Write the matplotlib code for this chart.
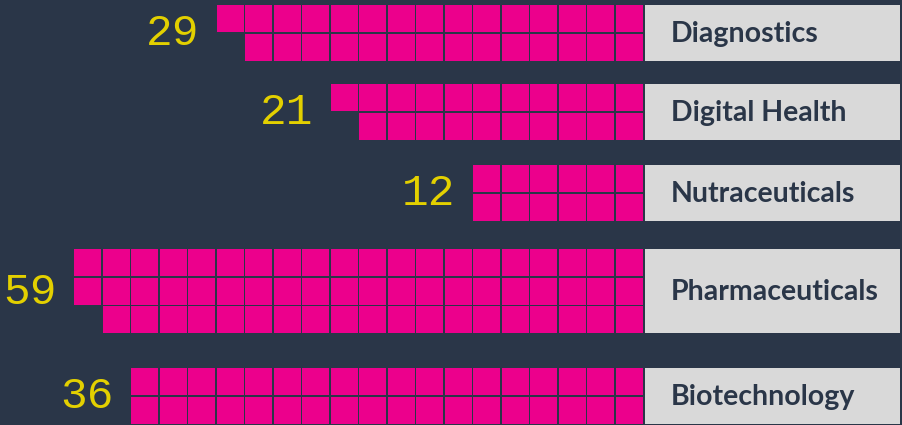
import math
import matplotlib
matplotlib.use("Agg")
import matplotlib.pyplot as plt
from matplotlib.patches import Rectangle

# data
categories = ["Diagnostics", "Digital Health", "Nutraceuticals", "Pharmaceuticals", "Biotechnology"]
counts = [29, 21, 12, 59, 36]
max_per_row = 20
min_rows = 2

# layout (pixel units)
W, H = 903, 425
group_tops = [5, 84, 165, 249, 368]
pitch = 28.5
size = 27
grid_right = 644.5
box_left, box_right = 645, 900

bg = "#2a3648"
pink = "#ec008c"
yellow = "#e3d000"
box_col = "#d9d9d9"

fig = plt.figure(figsize=(W / 100, H / 100), dpi=100)
fig.patch.set_facecolor(bg)
ax = fig.add_axes([0, 0, 1, 1])
ax.set_facecolor(bg)
ax.set_xlim(0, W)
ax.set_ylim(H, 0)
ax.axis("off")

for cat, n, top in zip(categories, counts, group_tops):
    rows = max(min_rows, math.ceil(n / max_per_row))
    cols = math.ceil(n / rows)
    # squares fill column by column, starting at the right edge
    for i in range(n):
        c, r = divmod(i, rows)
        x = grid_right - (c + 1) * pitch
        y = top + r * pitch
        ax.add_patch(Rectangle((x, y), size, size, facecolor=pink, edgecolor="none"))

    bottom = top + rows * pitch - (pitch - size)
    mid = (top + bottom) / 2
    ax.add_patch(Rectangle((box_left, top), box_right - box_left, bottom - top,
                           facecolor=box_col, edgecolor="none"))
    ax.text(671, mid + 1, cat, ha="left", va="center", fontsize=20.5,
            fontweight="bold", family="Lato", color=bg)

    left = grid_right - cols * pitch
    ax.text(left - 18, mid + 1, str(n), ha="right", va="center", fontsize=32,
            family="Liberation Mono", color=yellow)

fig.savefig("out.png", dpi=100, facecolor=bg)
